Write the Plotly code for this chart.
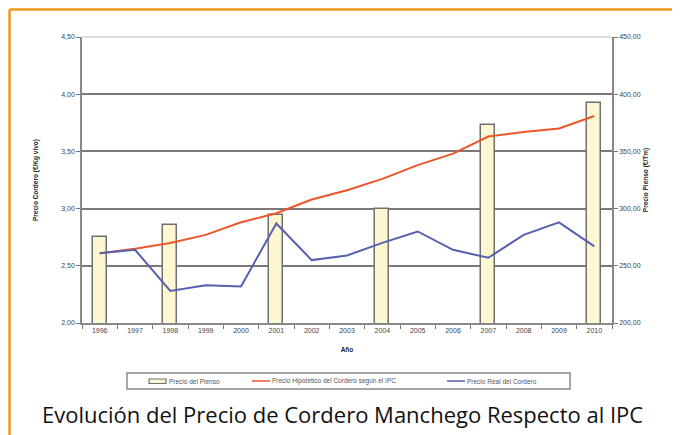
import plotly.graph_objects as go

# data
anios = [str(a) for a in range(1996, 2011)]
pienso_anios = ["1996", "1998", "2001", "2004", "2007", "2010"]
precio_pienso = [275, 285.5, 294, 300, 373, 392]
precio_hipotetico = [2.61, 2.65, 2.70, 2.77, 2.88, 2.96, 3.08, 3.16, 3.26, 3.38, 3.48,
                     3.63, 3.67, 3.70, 3.81]
precio_real = [2.61, 2.64, 2.28, 2.33, 2.32, 2.87, 2.55, 2.59, 2.70, 2.80, 2.64,
               2.57, 2.77, 2.88, 2.67]

ticks_cordero = [2.0, 2.5, 3.0, 3.5, 4.0, 4.5]
ticks_pienso = [200, 250, 300, 350, 400, 450]

COL_BAR = "#FDF8D2"
COL_BAR_LINE = "#707070"
COL_IPC = "#EE5629"
COL_REAL = "#5560B0"

tick_font = dict(family="Liberation Sans, Arial", size=7, color="#444444")
title_font = dict(family="Liberation Sans, Arial", size=6.5, color="#222222")
legend_font = dict(family="Liberation Sans, Arial", size=6.5, color="#555555")

# the page body adds 8px, so the margins are shifted to compensate
ML, MT, PW, PH = 74, 29, 530, 286
OFF = 8


def px_x(x):
    # page pixel -> paper x
    return (x - OFF - ML) / PW


def px_y(y):
    # page pixel -> paper y
    return 1 - (y - OFF - MT) / PH


fig = go.Figure()

# bars on the primary axis (right side) so the lines are drawn on top
fig.add_trace(go.Bar(x=pienso_anios, y=precio_pienso, name="Precio del Pienso",
                     width=0.4, yaxis="y",
                     marker=dict(color=COL_BAR, line=dict(color=COL_BAR_LINE, width=1.5))))
fig.add_trace(go.Scatter(x=anios, y=precio_hipotetico, mode="lines", yaxis="y2",
                         name="Precio Hipotético del Cordero según el IPC",
                         line=dict(color=COL_IPC, width=2)))
fig.add_trace(go.Scatter(x=anios, y=precio_real, mode="lines", yaxis="y2",
                         name="Precio Real del Cordero",
                         line=dict(color=COL_REAL, width=2)))

# hand made legend box, laid out like the original
shapes = [
    dict(type="line", xref="paper", yref="paper", x0=0, x1=1, y0=1, y1=1,
         line=dict(color="#dedede", width=2), layer="above"),
    # orange frame (top and left)
    dict(type="line", xref="paper", yref="paper", x0=px_x(9.5), x1=px_x(700),
         y0=px_y(9.5), y1=px_y(9.5), line=dict(color="#F3961C", width=2.5)),
    dict(type="line", xref="paper", yref="paper", x0=px_x(9.5), x1=px_x(9.5),
         y0=px_y(9.5), y1=px_y(450), line=dict(color="#F3961C", width=2.5)),
    # legend frame
    dict(type="rect", xref="paper", yref="paper", x0=px_x(127), x1=px_x(570),
         y0=px_y(373), y1=px_y(389), line=dict(color="#8a8a8a", width=1.5),
         fillcolor="white"),
    dict(type="rect", xref="paper", yref="paper", x0=px_x(149), x1=px_x(166),
         y0=px_y(379), y1=px_y(383.5), line=dict(color=COL_BAR_LINE, width=1.2),
         fillcolor=COL_BAR),
    dict(type="line", xref="paper", yref="paper", x0=px_x(252), x1=px_x(270),
         y0=px_y(381), y1=px_y(381), line=dict(color=COL_IPC, width=1.5)),
    dict(type="line", xref="paper", yref="paper", x0=px_x(447), x1=px_x(465),
         y0=px_y(381), y1=px_y(381), line=dict(color=COL_REAL, width=1.5)),
]

legend_items = [(167, "Precio del Pienso"),
                (270, "Precio Hipotético del Cordero según el IPC"),
                (465, "Precio Real del Cordero")]
annotations = [
    dict(text=txt, xref="paper", yref="paper", x=px_x(x0), y=px_y(381),
         xanchor="left", yanchor="middle", showarrow=False, font=legend_font)
    for x0, txt in legend_items
]
annotations.append(
    dict(text="Evolución del Precio de Cordero Manchego Respecto al IPC",
         xref="paper", yref="paper", x=px_x(342), y=px_y(414), yanchor="middle",
         showarrow=False,
         font=dict(family="Open Sans", size=22, weight=500, color="#111111")))

fig.update_layout(
    width=680, height=435,
    margin=dict(l=ML, r=680 - ML - PW, t=MT, b=435 - MT - PH),
    paper_bgcolor="white", plot_bgcolor="white",
    separators=",.",
    showlegend=False,
    bargap=0,
    xaxis=dict(type="category", categoryorder="array", categoryarray=anios,
               tickson="boundaries", ticks="outside", ticklen=4, tickcolor="#777777",
               showline=True, linecolor="#888888", linewidth=1.5,
               showgrid=False, tickfont=tick_font,
               title=dict(text="<b>Año</b>", font=title_font, standoff=14)),
    yaxis=dict(range=[200, 450], side="right", tickvals=ticks_pienso, tickformat=".2f",
               showgrid=True, gridcolor="#7c7878", gridwidth=1.5,
               showline=True, linecolor="#888888", linewidth=1.5,
               ticks="outside", ticklen=4, tickcolor="#777777",
               tickfont=tick_font, zeroline=False,
               title=dict(text="<b>Precio Pienso (€/Tm)</b>", font=title_font, standoff=4)),
    yaxis2=dict(range=[2.0, 4.5], side="left", overlaying="y", tickvals=ticks_cordero,
                tickformat=".2f", showgrid=False,
                showline=True, linecolor="#888888", linewidth=1.5,
                ticks="outside", ticklen=4, tickcolor="#777777",
                tickfont=tick_font, zeroline=False,
                title=dict(text="<b>Precio Cordero (€/Kg vivo)</b>", font=title_font, standoff=22)),
    shapes=shapes,
    annotations=annotations,
)

fig.write_html("out.html")
